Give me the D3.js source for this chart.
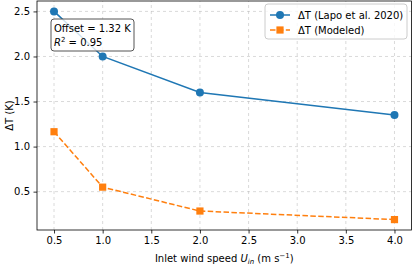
<!DOCTYPE html>
<html>
<head>
<meta charset="utf-8">
<script src="https://cdn.jsdelivr.net/npm/d3@7"></script>
<style>
  body { margin: 0; background: #fff; }
  svg { font-family: "DejaVu Sans", sans-serif; }
</style>
</head>
<body>
<div id="chart"></div>
<script>
// data
const windSpeed = [0.5, 1.0, 2.0, 4.0];
const lapoDT = [2.5, 2.0, 1.6, 1.35];
const modeledDT = [1.165, 0.55, 0.285, 0.19];
const xTicks = [0.5, 1.0, 1.5, 2.0, 2.5, 3.0, 3.5, 4.0];
const yTicks = [0.5, 1.0, 1.5, 2.0, 2.5];
const seriesNames = ["ΔT (Lapo et al. 2020)", "ΔT (Modeled)"];

const W = 412, H = 265;
const margin = { top: 1, right: 0.5, bottom: 35, left: 37 };

const svg = d3.select("#chart").append("svg")
  .attr("width", W).attr("height", H);

// matplotlib-like 5% padding
const pad = (lo, hi) => [lo - (hi - lo) * 0.05, hi + (hi - lo) * 0.05];
const allY = lapoDT.concat(modeledDT);

const x = d3.scaleLinear()
  .domain(pad(d3.min(windSpeed), d3.max(windSpeed)))
  .range([margin.left, W - margin.right]);
const y = d3.scaleLinear()
  .domain(pad(d3.min(allY), d3.max(allY)))
  .range([H - margin.bottom, margin.top]);

// grid
const grid = svg.append("g");
grid.selectAll(".gx").data(xTicks).join("line")
  .attr("x1", d => x(d)).attr("x2", d => x(d))
  .attr("y1", y.range()[0]).attr("y2", y.range()[1])
  .attr("stroke", "#b0b0b0").attr("stroke-opacity", 0.6)
  .attr("stroke-dasharray", "3,3").attr("stroke-width", 0.8);
grid.selectAll(".gy").data(yTicks).join("line")
  .attr("y1", d => y(d)).attr("y2", d => y(d))
  .attr("x1", x.range()[0]).attr("x2", x.range()[1])
  .attr("stroke", "#b0b0b0").attr("stroke-opacity", 0.6)
  .attr("stroke-dasharray", "3,3").attr("stroke-width", 0.8);

// axes
const xAxis = svg.append("g")
  .attr("transform", `translate(0,${H - margin.bottom})`)
  .call(d3.axisBottom(x).tickValues(xTicks).tickFormat(d3.format(".1f")).tickSize(3.5).tickPadding(3.5));
const yAxis = svg.append("g")
  .attr("transform", `translate(${margin.left},0)`)
  .call(d3.axisLeft(y).tickValues(yTicks).tickFormat(d3.format(".1f")).tickSize(3.5).tickPadding(3.5));
[xAxis, yAxis].forEach(a => {
  a.selectAll("text").attr("font-size", 10).attr("fill", "#000").attr("font-family", "DejaVu Sans");
  a.selectAll(".tick line").attr("stroke", "#000").attr("stroke-width", 0.8);
  a.select(".domain").remove();
});

// frame
svg.append("rect")
  .attr("x", x.range()[0]).attr("y", y.range()[1])
  .attr("width", x.range()[1] - x.range()[0])
  .attr("height", y.range()[0] - y.range()[1])
  .attr("fill", "none").attr("stroke", "#000").attr("stroke-width", 0.8);

// lines
const line = d3.line().x(d => x(d[0])).y(d => y(d[1]));
const lapo = windSpeed.map((w, i) => [w, lapoDT[i]]);
const model = windSpeed.map((w, i) => [w, modeledDT[i]]);

svg.append("path").datum(lapo).attr("d", line)
  .attr("fill", "none").attr("stroke", "#1f77b4").attr("stroke-width", 1.5);
svg.append("path").datum(model).attr("d", line)
  .attr("fill", "none").attr("stroke", "#ff7f0e").attr("stroke-width", 1.5)
  .attr("stroke-dasharray", "5.5,2.4");

svg.append("g").selectAll("circle").data(lapo).join("circle")
  .attr("cx", d => x(d[0])).attr("cy", d => y(d[1])).attr("r", 4)
  .attr("fill", "#1f77b4");
svg.append("g").selectAll("rect").data(model).join("rect")
  .attr("x", d => x(d[0]) - 3.6).attr("y", d => y(d[1]) - 3.6)
  .attr("width", 7.2).attr("height", 7.2)
  .attr("fill", "#ff7f0e");

// annotation box
const ann = svg.append("g").attr("transform", "translate(51,19)");
ann.append("rect").attr("width", 83).attr("height", 32).attr("rx", 3)
  .attr("fill", "#fff").attr("fill-opacity", 0.8)
  .attr("stroke", "#555").attr("stroke-width", 1);
ann.append("text").attr("x", 3).attr("y", 13).attr("font-size", 10)
  .text("Offset = 1.32 K");
const r2 = ann.append("text").attr("x", 3).attr("y", 27).attr("font-size", 10);
r2.append("tspan").attr("font-style", "italic").text("R");
r2.append("tspan").attr("dy", -4).attr("font-size", 7).text("2");
r2.append("tspan").attr("dy", 4).text(" = 0.95");

// legend
const lg = svg.append("g").attr("transform", "translate(265,4)");
lg.append("rect").attr("width", 142).attr("height", 35).attr("rx", 3)
  .attr("fill", "#fff").attr("fill-opacity", 0.8)
  .attr("stroke", "#ccc").attr("stroke-width", 1);
const colors = ["#1f77b4", "#ff7f0e"];
seriesNames.forEach((name, i) => {
  const yy = 11 + i * 15;
  lg.append("line").attr("x1", 5).attr("x2", 25).attr("y1", yy).attr("y2", yy)
    .attr("stroke", colors[i]).attr("stroke-width", 1.5)
    .attr("stroke-dasharray", i === 1 ? "5.5,2.4" : null);
  if (i === 0) {
    lg.append("circle").attr("cx", 15).attr("cy", yy).attr("r", 4).attr("fill", colors[i]);
  } else {
    lg.append("rect").attr("x", 11.4).attr("y", yy - 3.6).attr("width", 7.2).attr("height", 7.2).attr("fill", colors[i]);
  }
  lg.append("text").attr("x", 33).attr("y", yy + 3.5).attr("font-size", 10).text(name);
});

// axis labels
svg.append("text")
  .attr("transform", `translate(9,${(y.range()[0] + y.range()[1]) / 2}) rotate(-90)`)
  .attr("text-anchor", "middle").attr("dy", "0.35em").attr("font-size", 10)
  .text("ΔT (K)");

const xl = svg.append("text")
  .attr("x", (x.range()[0] + x.range()[1]) / 2).attr("y", 262)
  .attr("text-anchor", "middle").attr("font-size", 10);
xl.append("tspan").text("Inlet wind speed ");
xl.append("tspan").attr("font-style", "italic").text("U");
xl.append("tspan").attr("font-style", "italic").attr("font-size", 7).attr("dy", 2).text("in");
xl.append("tspan").attr("dy", -2).text(" (m s");
xl.append("tspan").attr("font-size", 7).attr("dy", -4).text("−1");
xl.append("tspan").attr("dy", 4).text(")");
</script>
</body>
</html>
